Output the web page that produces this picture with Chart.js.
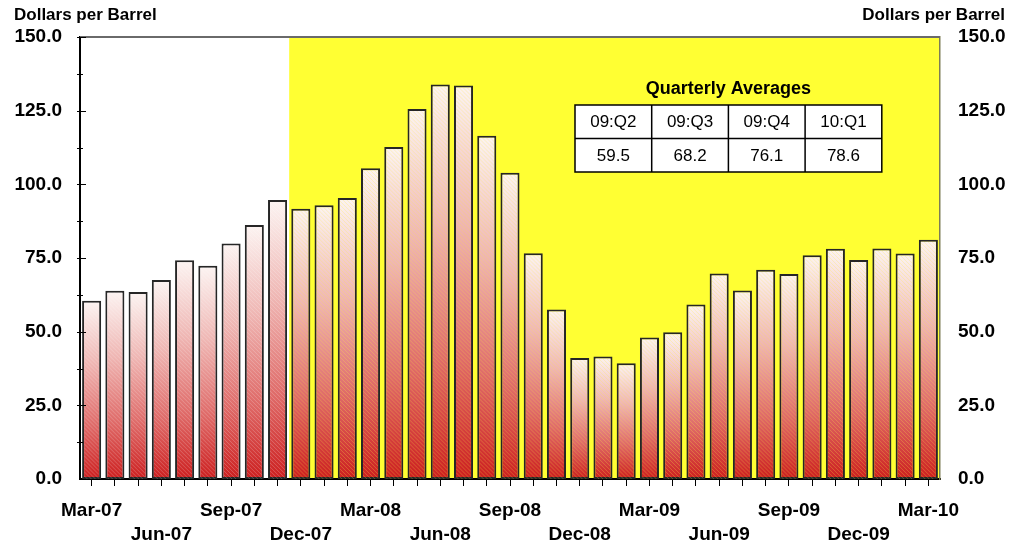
<!DOCTYPE html>
<html>
<head>
<meta charset="utf-8">
<title>Dollars per Barrel</title>
<script src="https://cdn.jsdelivr.net/npm/chart.js@4/dist/chart.umd.min.js"></script>
<style>
  html, body { margin: 0; padding: 0; background: #ffffff; }
  #wrap { width: 1013px; height: 546px; }
</style>
</head>
<body>
<div id="wrap"><canvas id="chart" width="1013" height="546"></canvas></div>
<script>
// Monthly categories, Mar-07 through Mar-10
const months = [
  'Mar-07','Apr-07','May-07','Jun-07','Jul-07','Aug-07','Sep-07','Oct-07','Nov-07',
  'Dec-07','Jan-08','Feb-08','Mar-08','Apr-08','May-08','Jun-08','Jul-08','Aug-08',
  'Sep-08','Oct-08','Nov-08','Dec-08','Jan-09','Feb-09','Mar-09','Apr-09','May-09',
  'Jun-09','Jul-09','Aug-09','Sep-09','Oct-09','Nov-09','Dec-09','Jan-10','Feb-10','Mar-10'
];

// Monthly price, dollars per barrel
const prices = [
  60.5, 63.9, 63.5, 67.5, 74.2, 72.4, 79.9, 86.2, 94.7,
  91.7, 92.9, 95.4, 105.5, 112.7, 125.6, 133.9, 133.5, 116.5,
  103.9, 76.6, 57.5, 41.1, 41.6, 39.3, 48.0, 49.8, 59.2,
  69.7, 64.0, 71.0, 69.6, 75.9, 78.1, 74.3, 78.2, 76.5, 81.2
];

// Quarterly averages table
const quarterLabels = ['09:Q2', '09:Q3', '09:Q4', '10:Q1'];
const quarterAverages = [59.5, 68.2, 76.1, 78.6];

// Value axis range
const axisMin = 0;
const axisMax = 150;
const axisStep = 25;

// First month of the highlighted period
const shadedFrom = 'Dec-07';

const FONT = '"Liberation Sans", Arial, Helvetica, sans-serif';
const YELLOW = '#ffff33';

// Vertical white-to-red gradient for each bar, spanning the bar's own height
function barFill(ctx) {
  const chart = ctx.chart;
  if (!chart.chartArea || ctx.type !== 'data') return '#e07070';
  const y = chart.scales.y;
  const top = y.getPixelForValue(ctx.raw);
  const bot = y.getPixelForValue(0);
  const g = chart.ctx.createLinearGradient(0, top, 0, bot);
  g.addColorStop(0, '#fcf4f2');
  g.addColorStop(0.35, '#efb6b3');
  g.addColorStop(0.7, '#df6a68');
  g.addColorStop(1, '#cc1f1f');
  return g;
}

// Background: white page, yellow band for the highlighted period
const backdrop = {
  id: 'backdrop',
  beforeDraw(chart) {
    const { ctx, chartArea: a, scales: { x } } = chart;
    ctx.save();
    ctx.fillStyle = '#ffffff';
    ctx.fillRect(0, 0, chart.width, chart.height);
    const start = x.getPixelForValue(months.indexOf(shadedFrom) - 0.5);
    ctx.fillStyle = YELLOW;
    ctx.fillRect(start, a.top, a.right - start, a.bottom - a.top);
    ctx.restore();
  }
};

// Fine diagonal hatching inside each bar, tinted by what lies behind it
const hatch = {
  id: 'hatch',
  afterDatasetsDraw(chart) {
    const { ctx, scales: { x } } = chart;
    const start = x.getPixelForValue(months.indexOf(shadedFrom) - 0.5);
    const meta = chart.getDatasetMeta(0);
    ctx.save();
    meta.data.forEach((bar) => {
      const p = bar.getProps(['x', 'y', 'base', 'width'], true);
      const l = p.x - p.width / 2 + 2, r = p.x + p.width / 2 - 2;
      const t = p.y + 2, b = p.base;
      ctx.save();
      ctx.beginPath();
      ctx.rect(l, t, r - l, b - t);
      ctx.clip();
      ctx.strokeStyle = p.x > start ? 'rgba(255,235,70,0.28)' : 'rgba(255,255,255,0.22)';
      ctx.lineWidth = 1;
      ctx.beginPath();
      for (let k = t - (r - l); k < b; k += 4) {
        ctx.moveTo(l, k);
        ctx.lineTo(r, k + (r - l));
      }
      ctx.stroke();
      ctx.restore();
    });
    ctx.restore();
  }
};

// Frame, crossing tick marks, axis headings and the averages table
const decorations = {
  id: 'decorations',
  afterDraw(chart) {
    const { ctx, chartArea: a, scales: { y } } = chart;
    ctx.save();

    // top frame line
    ctx.strokeStyle = '#6a6a6a';
    ctx.lineWidth = 2;
    ctx.beginPath();
    ctx.moveTo(a.left, a.top);
    ctx.lineTo(a.right, a.top);
    ctx.stroke();

    // tick marks crossing the left axis (major every 25, minor halfway)
    ctx.strokeStyle = '#000';
    ctx.lineWidth = 1;
    for (let v = axisMin + axisStep / 2; v <= axisMax; v += axisStep / 2) {
      const py = Math.round(y.getPixelForValue(v)) + 0.5;
      const major = (v % axisStep) === 0;
      ctx.beginPath();
      ctx.moveTo(a.left - 3, py);
      ctx.lineTo(a.left + (major ? 6 : 3), py);
      ctx.stroke();
    }

    // axis headings
    ctx.fillStyle = '#000';
    ctx.font = 'bold 17px ' + FONT;
    ctx.textBaseline = 'alphabetic';
    ctx.textAlign = 'left';
    ctx.fillText('Dollars per Barrel', 14, 20);
    ctx.textAlign = 'right';
    ctx.fillText('Dollars per Barrel', 1005, 20);

    // averages table
    const tl = 575, tt = 105, colW = 76.7, rowH = 33.5;
    const n = quarterLabels.length;
    ctx.textAlign = 'center';
    ctx.textBaseline = 'middle';
    ctx.font = 'bold 18px ' + FONT;
    ctx.fillText('Quarterly Averages', tl + colW * n / 2, 89);
    ctx.fillStyle = '#fff';
    ctx.fillRect(tl, tt, colW * n, rowH * 2);
    ctx.strokeStyle = '#000';
    ctx.lineWidth = 1.5;
    ctx.strokeRect(tl, tt, colW * n, rowH * 2);
    ctx.beginPath();
    ctx.moveTo(tl, tt + rowH);
    ctx.lineTo(tl + colW * n, tt + rowH);
    for (let i = 1; i < n; i++) {
      ctx.moveTo(tl + colW * i, tt);
      ctx.lineTo(tl + colW * i, tt + rowH * 2);
    }
    ctx.stroke();
    ctx.fillStyle = '#000';
    ctx.font = '17px ' + FONT;
    for (let i = 0; i < n; i++) {
      const cx = tl + colW * (i + 0.5);
      ctx.fillText(quarterLabels[i], cx, tt + rowH / 2 + 1);
      ctx.fillText(quarterAverages[i].toFixed(1), cx, tt + rowH * 1.5 + 1);
    }
    ctx.restore();
  }
};

const tickFont = { family: FONT, size: 19, weight: 'bold' };

new Chart(document.getElementById('chart'), {
  type: 'bar',
  data: {
    labels: months,
    datasets: [{
      label: 'Dollars per Barrel',
      data: prices,
      backgroundColor: barFill,
      borderColor: '#262626',
      borderWidth: 2,
      borderSkipped: false,
      barPercentage: 0.82,
      categoryPercentage: 1.0
    }]
  },
  options: {
    responsive: false,
    animation: false,
    devicePixelRatio: 1,
    layout: { padding: { top: 37, left: 0, right: 0, bottom: 0 } },
    plugins: {
      legend: { display: false },
      tooltip: { enabled: false },
      title: { display: false }
    },
    scales: {
      x: {
        offset: true,
        grid: {
          display: true, offset: false, drawOnChartArea: false,
          drawTicks: true, tickLength: 7, color: '#000', lineWidth: 1
        },
        border: { display: true, color: '#000', width: 2 },
        ticks: {
          autoSkip: false, maxRotation: 0, minRotation: 0,
          padding: 13, color: '#000',
          font: { family: FONT, size: 19, weight: 'bold', lineHeight: 1.26 },
          callback: (value, index) => {
            if (index % 3 !== 0) return '';
            return (index / 3) % 2 === 0 ? months[index] : ['', months[index]];
          }
        },
        afterFit: (s) => { s.height = 67; }
      },
      y: {
        position: 'left',
        min: axisMin, max: axisMax,
        grid: { display: false, drawTicks: false },
        border: { display: true, color: '#000', width: 2 },
        ticks: {
          stepSize: axisStep, padding: 18, color: '#000', font: tickFont,
          callback: (v) => Number(v).toFixed(1)
        },
        afterFit: (s) => { s.width = 80; }
      },
      y2: {
        position: 'right',
        min: axisMin, max: axisMax,
        grid: { display: false, drawTicks: false },
        border: { display: true, color: '#7c7c55', width: 1.5 },
        ticks: {
          stepSize: axisStep, padding: 18, color: '#000', font: tickFont,
          callback: (v) => Number(v).toFixed(1)
        },
        afterFit: (s) => { s.width = 73; }
      }
    }
  },
  plugins: [backdrop, hatch, decorations]
});
</script>
</body>
</html>
